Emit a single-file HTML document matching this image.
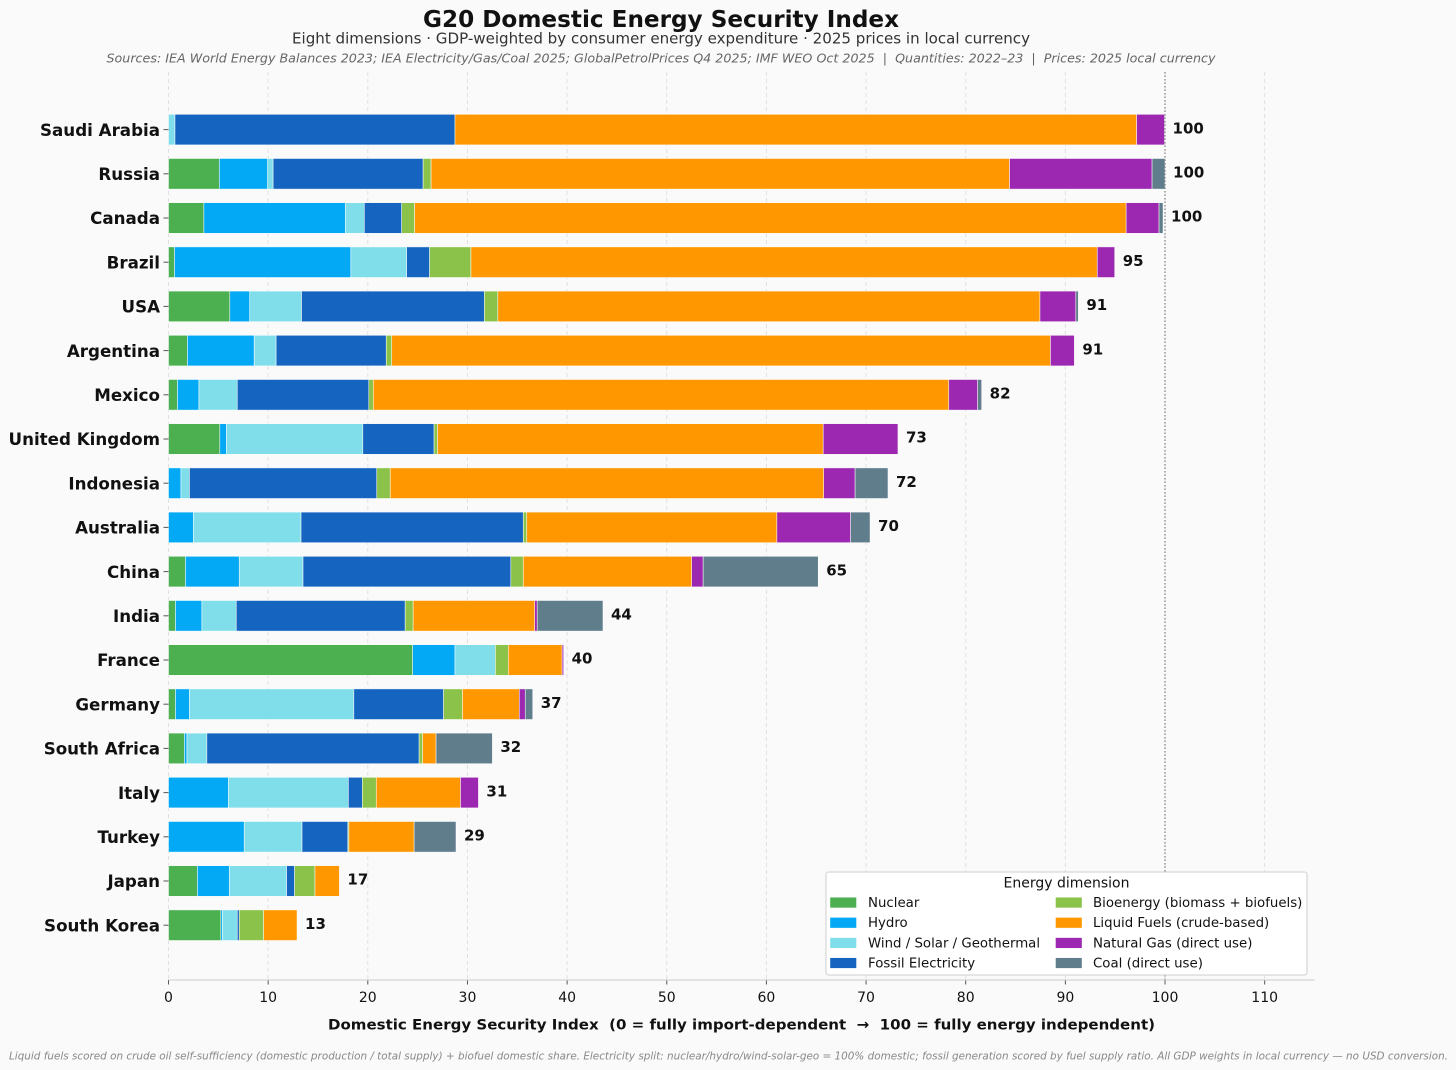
<!DOCTYPE html>
<html lang="en">
<head>
<meta charset="utf-8">
<title>G20 Domestic Energy Security Index</title>
<style>
html,body{margin:0;padding:0;background:#fafafa;width:1456px;height:1070px;overflow:hidden}
svg{display:block;font-family:"DejaVu Sans","Liberation Sans",sans-serif}
svg text{white-space:pre}
</style>
</head>
<body>
<svg id="chart" xmlns="http://www.w3.org/2000/svg" width="1456" height="1070" viewBox="0 0 1456 1070">
<rect x="0" y="0" width="1456" height="1070" fill="#fafafa"/>
<text x="661" y="27" text-anchor="middle" font-size="23px" font-weight="bold" fill="#111" textLength="476" lengthAdjust="spacingAndGlyphs">G20 Domestic Energy Security Index</text>
<text x="661" y="43.5" text-anchor="middle" font-size="15px" fill="#333" textLength="738" lengthAdjust="spacingAndGlyphs">Eight dimensions · GDP-weighted by consumer energy expenditure · 2025 prices in local currency</text>
<text x="661" y="62.5" text-anchor="middle" font-size="12.5px" font-style="italic" fill="#666" textLength="1109" lengthAdjust="spacingAndGlyphs">Sources: IEA World Energy Balances 2023; IEA Electricity/Gas/Coal 2025; GlobalPetrolPrices Q4 2025; IMF WEO Oct 2025  |  Quantities: 2022–23  |  Prices: 2025 local currency</text>
<g id="grid"></g>
<g id="bars"></g>
<line id="ref" stroke="#8a8a8a" stroke-width="1.3" stroke-dasharray="1.5 2"></line>
<g id="ylabels"></g>
<g id="values"></g>
<g id="xaxis"></g>
<text x="741.5" y="1029.5" text-anchor="middle" font-size="14.5px" font-weight="bold" fill="#111" textLength="827" lengthAdjust="spacingAndGlyphs">Domestic Energy Security Index  (0 = fully import-dependent  →  100 = fully energy independent)</text>
<text x="728.5" y="1059.5" text-anchor="middle" font-size="10.5px" font-style="italic" fill="#888" textLength="1439" lengthAdjust="spacingAndGlyphs">Liquid fuels scored on crude oil self-sufficiency (domestic production / total supply) + biofuel domestic share. Electricity split: nuclear/hydro/wind-solar-geo = 100% domestic; fossil generation scored by fuel supply ratio. All GDP weights in local currency — no USD conversion.</text>
<g id="legend"></g>
</svg>
<script>
const countries = ["Saudi Arabia","Russia","Canada","Brazil","USA","Argentina","Mexico","United Kingdom","Indonesia","Australia","China","India","France","Germany","South Africa","Italy","Turkey","Japan","South Korea"];
const nuclear = [0,5.1,3.55,0.6,6.15,1.9,0.9,5.15,0,0,1.7,0.7,24.5,0.7,1.6,0,0,2.9,5.25];
const hydro = [0,4.85,14.2,17.7,2.0,6.7,2.15,0.65,1.25,2.5,5.4,2.65,4.25,1.4,0.25,6.0,7.6,3.2,0.15];
const windSolarGeo = [0.65,0.55,1.9,5.6,5.2,2.2,3.85,13.7,0.85,10.8,6.4,3.45,4.05,16.5,2.0,12.05,5.8,5.75,1.5];
const fossilElectricity = [28.1,15.05,3.75,2.3,18.35,11.05,13.2,7.15,18.8,22.3,20.85,16.95,0,9.0,21.3,1.4,4.6,0.8,0.2];
const bioenergy = [0,0.8,1.3,4.15,1.35,0.55,0.45,0.35,1.35,0.35,1.25,0.8,1.3,1.9,0.35,1.4,0.1,2.05,2.45];
const liquidFuels = [68.4,58.05,71.4,62.85,54.4,66.1,57.75,38.7,43.5,25.1,16.9,12.2,5.4,5.7,1.35,8.45,6.55,2.45,3.35];
const naturalGas = [2.8,14.3,3.3,1.75,3.6,2.4,2.9,7.5,3.15,7.4,1.15,0.25,0.15,0.6,0,1.8,0,0,0];
const coal = [0,1.3,0.4,0,0.25,0,0.4,0,3.3,1.95,11.55,6.6,0,0.75,5.65,0,4.2,0,0];
const totalLabels = ["100","100","100","95","91","91","82","73","72","70","65","44","40","37","32","31","29","17","13"];
const xTicks = [0,10,20,30,40,50,60,70,80,90,100,110];
const seriesNames = ["Nuclear","Hydro","Wind / Solar / Geothermal","Fossil Electricity","Bioenergy (biomass + biofuels)","Liquid Fuels (crude-based)","Natural Gas (direct use)","Coal (direct use)"];
const seriesColors = ["#4caf50","#03a9f4","#80deea","#1565c0","#8bc34a","#ff9800","#9c27b0","#607d8b"];
const seriesValues = [nuclear,hydro,windSolarGeo,fossilElectricity,bioenergy,liquidFuels,naturalGas,coal];
const referenceValue = 100;
const xMax = 115;

const NS = "http://www.w3.org/2000/svg";
const plot = {left:168.5, right:1314.5, top:72, bottom:980, firstRow:129.6, rowStep:44.2, barH:30.6};
function xScale(v){ return plot.left + v/xMax*(plot.right-plot.left); }
function yScale(i){ return plot.firstRow + i*plot.rowStep; }
function make(tag, attrs, parent, text){
  const el = document.createElementNS(NS, tag);
  for (const k in attrs) el.setAttribute(k, attrs[k]);
  if (text !== undefined) el.textContent = text;
  parent.appendChild(el);
  return el;
}
function slug(s){ return s.toLowerCase().replace(/[^a-z0-9]+/g,'-').replace(/^-|-$/g,''); }

const gridG = document.getElementById('grid');
const xaxisG = document.getElementById('xaxis');
xTicks.forEach(t => {
  const gl = make('line',{x1:xScale(t),x2:xScale(t),y1:plot.top,y2:plot.bottom,stroke:'#e0e0e0','stroke-width':1,'stroke-dasharray':'4 3'},gridG);
  
  
  const tk = make('line',{x1:xScale(t),x2:xScale(t),y1:plot.bottom,y2:plot.bottom+4.5,stroke:'#555','stroke-width':1},xaxisG);
  
  
  const tl = make('text',{x:xScale(t),y:1002,'text-anchor':'middle','font-size':'14px',fill:'#111'},xaxisG,String(t));
  
  
});
const axisLine = make('line',{x1:plot.left,x2:plot.right,y1:plot.bottom,y2:plot.bottom,stroke:'#cccccc','stroke-width':1},xaxisG);



const barsG = document.getElementById('bars');
const ylG = document.getElementById('ylabels');
const valG = document.getElementById('values');
countries.forEach((c,i) => {
  const cy = yScale(i);
  const row = make('g',{},barsG);
  
  
  let cum = 0;
  seriesValues.forEach((vals,s) => {
    const v = vals[i];
    if (v > 0) {
      const r = make('rect',{x:xScale(cum),y:cy-plot.barH/2,width:xScale(cum+v)-xScale(cum),height:plot.barH,fill:seriesColors[s],stroke:'#ffffff','stroke-width':0.6,'stroke-opacity':0.85},row);
      
      
    }
    cum += v;
  });
  const tick = make('line',{x1:plot.left-5,x2:plot.left,y1:cy,y2:cy,stroke:'#555','stroke-width':1},ylG);
  
  
  const lab = make('text',{x:160,y:cy+6.2,'text-anchor':'end','font-size':'16.7px','font-weight':'bold',fill:'#111'},ylG,c);
  
  
  const val = make('text',{x:xScale(cum)+8,y:cy+3.7,'font-size':'15px','font-weight':'bold',fill:'#111'},valG,totalLabels[i]);
  
  
});

const ref = document.getElementById('ref');
ref.setAttribute('x1', xScale(referenceValue));
ref.setAttribute('x2', xScale(referenceValue));
ref.setAttribute('y1', plot.top);
ref.setAttribute('y2', plot.bottom);

const legendG = document.getElementById('legend');
const legendBox = make('rect',{x:826,y:872,width:481,height:103,rx:2.5,fill:'#ffffff',stroke:'#cfcfcf','stroke-width':1},legendG);


const legendTitle = make('text',{x:1066.5,y:887.5,'text-anchor':'middle','font-size':'14px',fill:'#111'},legendG,'Energy dimension');


seriesNames.forEach((n,i) => {
  const col = i < 4 ? 0 : 1;
  const rowIdx = i % 4;
  const px = col === 0 ? 830 : 1055.5;
  const ry = 902.6 + rowIdx*20.15;
  const sw = make('rect',{x:px,y:ry-5.3,width:26.5,height:10.6,fill:seriesColors[i],stroke:'#ffffff','stroke-width':0.4},legendG);
  
  
  const lt = make('text',{x:col === 0 ? 868 : 1093,y:ry+4.4,'font-size':'13.33px',fill:'#111'},legendG,n);
  
  
});
</script>
</body>
</html>
